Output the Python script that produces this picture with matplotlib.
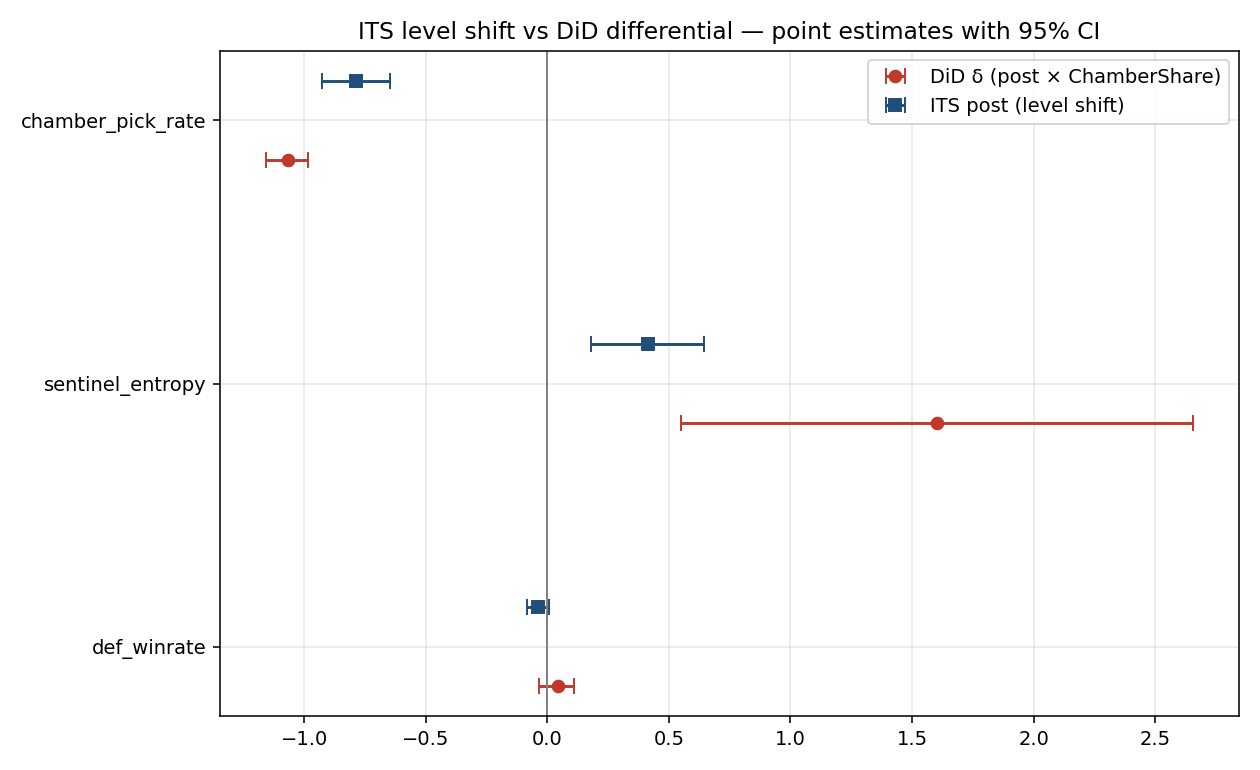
import numpy as np
import matplotlib.pyplot as plt

# outcomes, bottom to top
outcomes = ['def_winrate', 'sentinel_entropy', 'chamber_pick_rate']

# DiD delta (post x ChamberShare): estimate, 95% CI
did_est = [0.042, 1.604, -1.067]
did_lo = [-0.033, 0.551, -1.155]
did_hi = [0.111, 2.654, -0.982]

# ITS post (level shift): estimate, 95% CI
its_est = [-0.038, 0.415, -0.785]
its_lo = [-0.083, 0.180, -0.926]
its_hi = [0.008, 0.645, -0.645]


def plot_forest():
    y = np.arange(len(outcomes))
    did_est_a, its_est_a = np.array(did_est), np.array(its_est)
    did_err = [did_est_a - np.array(did_lo), np.array(did_hi) - did_est_a]
    its_err = [its_est_a - np.array(its_lo), np.array(its_hi) - its_est_a]

    fig, ax = plt.subplots(figsize=(9, 5.5), dpi=140)
    ax.errorbar(did_est_a, y - 0.15, xerr=did_err, fmt='o', color='#c0392b',
                capsize=4, lw=1.5, ms=6, label='DiD δ (post × ChamberShare)')
    ax.errorbar(its_est_a, y + 0.15, xerr=its_err, fmt='s', color='#1f4e79',
                capsize=4, lw=1.5, ms=6, label='ITS post (level shift)')
    ax.axvline(0, color='gray', lw=1)
    ax.set_yticks(y)
    ax.set_yticklabels(outcomes)
    ax.grid(True, alpha=0.3)
    ax.set_title('ITS level shift vs DiD differential — point estimates with 95% CI')
    ax.legend(loc='upper right')
    fig.tight_layout()
    fig.savefig('out.png')


if __name__ == "__main__":
    plot_forest()
